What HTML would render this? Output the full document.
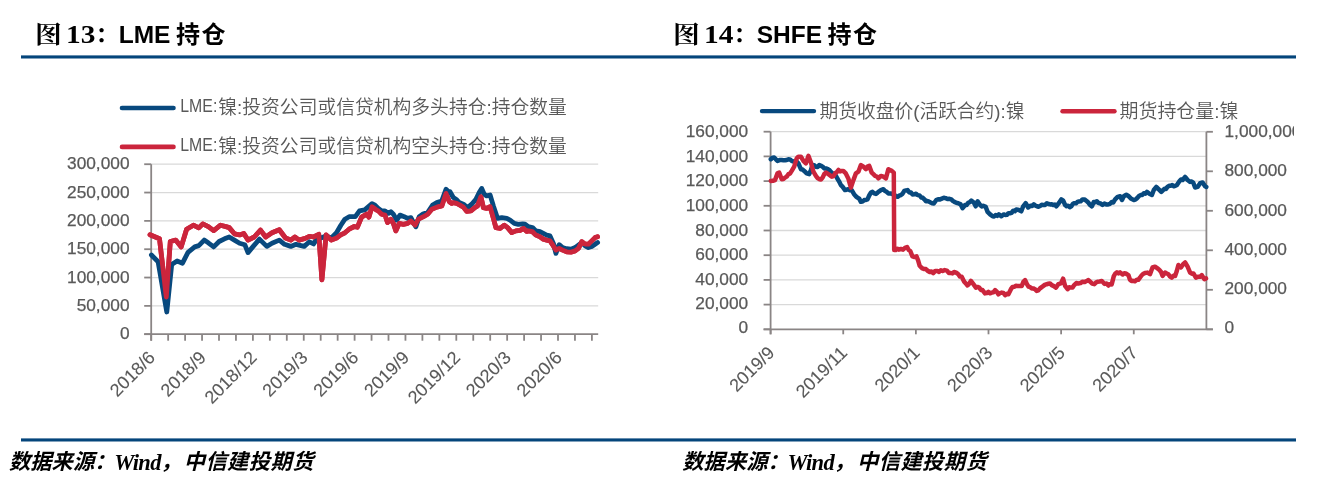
<!DOCTYPE html>
<html><head><meta charset="utf-8"><title>LME / SHFE 持仓</title>
<style>
html,body{margin:0;padding:0;background:#fff;}
body{width:1320px;height:479px;position:relative;overflow:hidden;}
.t{position:absolute;white-space:nowrap;color:#000;font-weight:bold;line-height:1;}
.t.s{font-family:"Liberation Serif","Noto Serif CJK SC",serif;}
.t.a{font-family:"Liberation Sans","Noto Sans CJK SC",sans-serif;}
.t.n{font-family:"Liberation Serif",serif;}
.rule{position:absolute;left:21px;width:1275px;height:3.4px;background:#04457b;}
.src{position:absolute;white-space:nowrap;font-family:"Liberation Sans","Noto Sans CJK SC",sans-serif;font-weight:bold;font-style:italic;font-size:21.3px;line-height:1;color:#000;}
.src.w{font-family:"Liberation Serif",serif;font-weight:bold;font-size:22.5px;letter-spacing:-0.7px;}
svg{position:absolute;left:0;top:0;}
.ax{font-family:"Liberation Sans","Noto Sans CJK SC",sans-serif;font-size:17.3px;fill:#595959;stroke:#595959;stroke-width:0.25px;}
.xl{font-size:18px;stroke-width:0.1px;}
.lg{font-family:"Liberation Sans","Noto Sans CJK SC",sans-serif;font-size:19px;fill:#595959;font-weight:350;}
</style></head>
<body>
<div class="t s" style="left:34.8px;top:23.6px;font-size:23.5px;transform:scaleX(1.14);transform-origin:0 0;">图</div><div class="t n" style="left:66.2px;top:23.4px;font-size:24.5px;transform:scaleX(1.2);transform-origin:0 0;">13</div><div class="t s" style="left:95.0px;top:23px;font-size:24.5px;">：</div><div class="t a" style="left:118.7px;top:23px;font-size:24.5px;">LME</div><div class="t a" style="left:176.1px;top:23.3px;font-size:24px;letter-spacing:1.5px;">持仓</div>
<div class="t s" style="left:672.8px;top:23.6px;font-size:23.5px;transform:scaleX(1.14);transform-origin:0 0;">图</div><div class="t n" style="left:704.2px;top:23.4px;font-size:24.5px;transform:scaleX(1.2);transform-origin:0 0;">14</div><div class="t s" style="left:733.0px;top:23px;font-size:24.5px;">：</div><div class="t a" style="left:756.7px;top:23px;font-size:24.5px;">SHFE</div><div class="t a" style="left:827.4px;top:23.3px;font-size:24px;letter-spacing:1.5px;">持仓</div>
<div class="src" style="left:9.0px;top:452.3px;">数据来源：</div><div class="src w" style="left:114.3px;top:452.3px;">Wind</div><div class="src" style="left:160.5px;top:452.3px;">，</div><div class="src" style="left:183.7px;top:452.3px;letter-spacing:0.4px;">中信建投期货</div>
<div class="src" style="left:682.3px;top:452.3px;">数据来源：</div><div class="src w" style="left:787.6px;top:452.3px;">Wind</div><div class="src" style="left:833.8px;top:452.3px;">，</div><div class="src" style="left:857.0px;top:452.3px;letter-spacing:0.4px;">中信建投期货</div>
<svg width="1320" height="479" viewBox="0 0 1320 479">
<defs><clipPath id="cp"><rect x="0" y="0" width="1294" height="479"/></clipPath></defs>
<rect x="21" y="55.4" width="1275" height="3.1" fill="#04457b"/>
<rect x="21" y="438.4" width="1275" height="3.1" fill="#04457b"/>
<g clip-path="url(#cp)">
<line x1="151.2" y1="305.87" x2="598.2" y2="305.87" stroke="#d9d9d9" stroke-width="1.3"/>
<line x1="151.2" y1="277.54" x2="598.2" y2="277.54" stroke="#d9d9d9" stroke-width="1.3"/>
<line x1="151.2" y1="249.21" x2="598.2" y2="249.21" stroke="#d9d9d9" stroke-width="1.3"/>
<line x1="151.2" y1="220.88" x2="598.2" y2="220.88" stroke="#d9d9d9" stroke-width="1.3"/>
<line x1="151.2" y1="192.55" x2="598.2" y2="192.55" stroke="#d9d9d9" stroke-width="1.3"/>
<line x1="151.2" y1="164.22" x2="598.2" y2="164.22" stroke="#d9d9d9" stroke-width="1.3"/>
<line x1="151.2" y1="164.22" x2="151.2" y2="340.7" stroke="#8a8585" stroke-width="1.8"/>
<line x1="144.2" y1="334.20" x2="151.2" y2="334.20" stroke="#8a8585" stroke-width="1.8"/>
<line x1="144.2" y1="305.87" x2="151.2" y2="305.87" stroke="#8a8585" stroke-width="1.8"/>
<line x1="144.2" y1="277.54" x2="151.2" y2="277.54" stroke="#8a8585" stroke-width="1.8"/>
<line x1="144.2" y1="249.21" x2="151.2" y2="249.21" stroke="#8a8585" stroke-width="1.8"/>
<line x1="144.2" y1="220.88" x2="151.2" y2="220.88" stroke="#8a8585" stroke-width="1.8"/>
<line x1="144.2" y1="192.55" x2="151.2" y2="192.55" stroke="#8a8585" stroke-width="1.8"/>
<line x1="144.2" y1="164.22" x2="151.2" y2="164.22" stroke="#8a8585" stroke-width="1.8"/>
<line x1="144.2" y1="334.2" x2="598.2" y2="334.2" stroke="#8a8585" stroke-width="1.8"/>
<line x1="151.20" y1="334.2" x2="151.20" y2="340.7" stroke="#8a8585" stroke-width="1.8"/>
<line x1="168.15" y1="334.2" x2="168.15" y2="340.7" stroke="#8a8585" stroke-width="1.8"/>
<line x1="185.10" y1="334.2" x2="185.10" y2="340.7" stroke="#8a8585" stroke-width="1.8"/>
<line x1="202.05" y1="334.2" x2="202.05" y2="340.7" stroke="#8a8585" stroke-width="1.8"/>
<line x1="219.00" y1="334.2" x2="219.00" y2="340.7" stroke="#8a8585" stroke-width="1.8"/>
<line x1="235.95" y1="334.2" x2="235.95" y2="340.7" stroke="#8a8585" stroke-width="1.8"/>
<line x1="252.90" y1="334.2" x2="252.90" y2="340.7" stroke="#8a8585" stroke-width="1.8"/>
<line x1="269.85" y1="334.2" x2="269.85" y2="340.7" stroke="#8a8585" stroke-width="1.8"/>
<line x1="286.80" y1="334.2" x2="286.80" y2="340.7" stroke="#8a8585" stroke-width="1.8"/>
<line x1="303.75" y1="334.2" x2="303.75" y2="340.7" stroke="#8a8585" stroke-width="1.8"/>
<line x1="320.70" y1="334.2" x2="320.70" y2="340.7" stroke="#8a8585" stroke-width="1.8"/>
<line x1="337.65" y1="334.2" x2="337.65" y2="340.7" stroke="#8a8585" stroke-width="1.8"/>
<line x1="354.60" y1="334.2" x2="354.60" y2="340.7" stroke="#8a8585" stroke-width="1.8"/>
<line x1="371.55" y1="334.2" x2="371.55" y2="340.7" stroke="#8a8585" stroke-width="1.8"/>
<line x1="388.50" y1="334.2" x2="388.50" y2="340.7" stroke="#8a8585" stroke-width="1.8"/>
<line x1="405.45" y1="334.2" x2="405.45" y2="340.7" stroke="#8a8585" stroke-width="1.8"/>
<line x1="422.40" y1="334.2" x2="422.40" y2="340.7" stroke="#8a8585" stroke-width="1.8"/>
<line x1="439.35" y1="334.2" x2="439.35" y2="340.7" stroke="#8a8585" stroke-width="1.8"/>
<line x1="456.30" y1="334.2" x2="456.30" y2="340.7" stroke="#8a8585" stroke-width="1.8"/>
<line x1="473.25" y1="334.2" x2="473.25" y2="340.7" stroke="#8a8585" stroke-width="1.8"/>
<line x1="490.20" y1="334.2" x2="490.20" y2="340.7" stroke="#8a8585" stroke-width="1.8"/>
<line x1="507.15" y1="334.2" x2="507.15" y2="340.7" stroke="#8a8585" stroke-width="1.8"/>
<line x1="524.10" y1="334.2" x2="524.10" y2="340.7" stroke="#8a8585" stroke-width="1.8"/>
<line x1="541.05" y1="334.2" x2="541.05" y2="340.7" stroke="#8a8585" stroke-width="1.8"/>
<line x1="558.00" y1="334.2" x2="558.00" y2="340.7" stroke="#8a8585" stroke-width="1.8"/>
<line x1="574.95" y1="334.2" x2="574.95" y2="340.7" stroke="#8a8585" stroke-width="1.8"/>
<line x1="591.90" y1="334.2" x2="591.90" y2="340.7" stroke="#8a8585" stroke-width="1.8"/>
<text x="129.5" y="339.40" text-anchor="end" class="ax">0</text>
<text x="129.5" y="311.07" text-anchor="end" class="ax">50,000</text>
<text x="129.5" y="282.74" text-anchor="end" class="ax">100,000</text>
<text x="129.5" y="254.41" text-anchor="end" class="ax">150,000</text>
<text x="129.5" y="226.08" text-anchor="end" class="ax">200,000</text>
<text x="129.5" y="197.75" text-anchor="end" class="ax">250,000</text>
<text x="129.5" y="169.42" text-anchor="end" class="ax">300,000</text>
<text transform="translate(156.20,358.7) rotate(-45)" text-anchor="end" class="ax xl">2018/6</text>
<text transform="translate(207.05,358.7) rotate(-45)" text-anchor="end" class="ax xl">2018/9</text>
<text transform="translate(257.90,358.7) rotate(-45)" text-anchor="end" class="ax xl">2018/12</text>
<text transform="translate(308.75,358.7) rotate(-45)" text-anchor="end" class="ax xl">2019/3</text>
<text transform="translate(359.60,358.7) rotate(-45)" text-anchor="end" class="ax xl">2019/6</text>
<text transform="translate(410.45,358.7) rotate(-45)" text-anchor="end" class="ax xl">2019/9</text>
<text transform="translate(461.30,358.7) rotate(-45)" text-anchor="end" class="ax xl">2019/12</text>
<text transform="translate(512.15,358.7) rotate(-45)" text-anchor="end" class="ax xl">2020/3</text>
<text transform="translate(563.00,358.7) rotate(-45)" text-anchor="end" class="ax xl">2020/6</text>
<polyline points="150.0,234.7 159.5,238.8 166.3,297.0 170.3,241.5 175.7,240.1 181.2,246.9 186.6,229.3 193.4,225.2 198.8,227.9 202.8,223.9 208.3,226.6 213.7,230.6 220.5,225.2 225.9,226.6 229.2,227.6 234.4,233.8 239.6,234.9 243.8,233.4 248.0,240.1 254.2,237.0 260.5,230.1 265.7,237.0 272.0,232.8 279.3,229.7 285.5,238.0 290.8,240.1 294.9,237.0 299.1,240.1 305.2,238.4 309.4,236.3 313.6,237.0 318.8,234.3 321.9,279.8 326.1,234.9 331.3,240.1 336.5,238.0 340.7,234.9 344.9,232.8 349.1,229.2 354.3,226.5 357.4,227.2 361.6,217.1 366.8,214.0 368.9,217.1 372.0,206.7 376.2,209.8 378.3,210.9 381.7,214.2 385.0,215.1 387.5,222.6 390.9,219.2 393.4,223.4 395.9,230.9 399.2,223.4 403.4,224.3 407.6,223.4 410.9,220.9 415.1,225.1 418.4,219.2 423.4,216.7 427.6,214.2 431.8,209.2 436.8,207.1 441.8,205.9 446.0,193.4 449.3,201.7 451.8,203.4 453.3,202.6 456.7,203.4 460.0,205.1 463.4,207.1 466.7,211.4 470.9,210.9 474.2,208.1 477.5,205.9 480.9,196.7 483.4,207.6 486.7,208.4 490.1,206.7 493.4,218.4 495.9,227.6 500.1,228.4 504.3,225.1 507.6,227.6 511.8,232.6 515.9,230.9 520.1,230.4 523.5,228.4 526.8,231.4 528.3,230.9 532.5,231.7 535.9,235.1 540.0,236.7 543.4,239.2 546.7,240.1 550.0,240.9 553.4,245.9 555.9,250.1 559.2,248.4 562.6,250.1 566.7,251.8 570.9,252.1 575.1,250.9 578.4,248.4 581.8,241.7 585.1,244.2 588.4,244.2 591.8,240.9 595.1,237.6 597.6,236.7" fill="none" stroke="#cb253c" stroke-width="4.8" stroke-linejoin="round" stroke-linecap="round"/>
<polyline points="151.4,255.0 158.1,261.8 166.8,312.0 171.7,264.5 177.1,261.0 182.5,263.2 188.0,252.3 194.7,246.9 198.8,245.6 204.2,240.1 208.3,242.8 213.7,246.9 219.1,241.5 224.5,238.8 229.2,237.0 234.4,240.1 239.6,243.2 244.8,244.7 248.0,252.6 253.2,246.4 259.4,239.1 266.8,246.4 272.0,243.2 279.3,240.1 284.5,244.3 290.8,246.4 296.0,244.3 300.0,245.3 304.2,246.4 309.4,241.8 313.6,243.9 316.7,239.1 320.9,238.0 326.1,235.9 331.3,238.0 336.5,232.8 340.7,225.5 344.9,219.2 349.1,216.7 355.3,216.7 359.5,210.9 364.7,209.8 372.0,203.6 375.0,205.1 378.3,208.4 381.7,210.9 385.0,210.9 388.4,213.4 390.9,211.7 393.4,214.2 396.7,220.1 400.0,215.1 404.2,216.7 407.6,218.4 410.9,217.6 415.9,226.8 419.2,216.7 423.4,213.7 427.6,212.6 432.6,205.1 436.8,202.6 441.8,200.9 446.0,189.2 448.5,191.7 450.0,191.7 453.3,197.5 456.7,199.7 459.2,202.6 463.4,204.2 467.5,207.6 471.7,204.2 475.9,199.2 479.2,192.5 481.7,188.4 484.2,194.2 486.7,195.9 490.1,195.0 493.4,205.9 497.6,218.4 501.8,217.6 506.8,218.4 510.1,220.1 514.3,223.4 518.4,224.3 522.6,223.8 525.0,224.2 528.3,226.7 532.5,227.5 535.9,230.9 540.0,231.7 543.4,233.4 546.7,235.1 550.0,235.9 553.4,243.4 555.9,253.4 559.2,244.7 562.6,247.6 566.7,248.7 570.9,249.2 575.1,247.6 578.4,245.1 581.8,242.6 585.1,245.9 588.4,247.6 591.8,246.4 595.1,244.2 597.6,242.6" fill="none" stroke="#08497e" stroke-width="4.8" stroke-linejoin="round" stroke-linecap="round"/>
<polyline points="150.0,234.7 159.5,238.8 166.3,297.0 170.3,241.5 175.7,240.1 181.2,246.9 186.6,229.3 193.4,225.2 198.8,227.9 202.8,223.9 208.3,226.6 213.7,230.6 220.5,225.2 225.9,226.6 229.2,227.6 234.4,233.8 239.6,234.9 243.8,233.4 248.0,240.1 254.2,237.0 260.5,230.1 265.7,237.0 272.0,232.8 279.3,229.7 285.5,238.0 290.8,240.1 294.9,237.0 299.1,240.1 305.2,238.4 309.4,236.3 313.6,237.0 318.8,234.3 321.9,279.8 326.1,234.9 331.3,240.1 336.5,238.0 340.7,234.9 344.9,232.8 349.1,229.2 354.3,226.5 357.4,227.2 361.6,217.1 366.8,214.0 368.9,217.1 372.0,206.7 376.2,209.8 378.3,210.9 381.7,214.2 385.0,215.1 387.5,222.6 390.9,219.2 393.4,223.4 395.9,230.9 399.2,223.4 403.4,224.3 407.6,223.4 410.9,220.9 415.1,225.1 418.4,219.2 423.4,216.7 427.6,214.2 431.8,209.2 436.8,207.1 441.8,205.9 446.0,193.4 449.3,201.7 451.8,203.4 453.3,202.6 456.7,203.4 460.0,205.1 463.4,207.1 466.7,211.4 470.9,210.9 474.2,208.1 477.5,205.9 480.9,196.7 483.4,207.6 486.7,208.4 490.1,206.7 493.4,218.4 495.9,227.6 500.1,228.4 504.3,225.1 507.6,227.6 511.8,232.6 515.9,230.9 520.1,230.4 523.5,228.4 526.8,231.4 528.3,230.9 532.5,231.7 535.9,235.1 540.0,236.7 543.4,239.2 546.7,240.1 550.0,240.9 553.4,245.9 555.9,250.1 559.2,248.4 562.6,250.1 566.7,251.8 570.9,252.1 575.1,250.9 578.4,248.4 581.8,241.7 585.1,244.2 588.4,244.2 591.8,240.9 595.1,237.6 597.6,236.7" fill="none" stroke="#cb253c" stroke-width="4.8" stroke-linejoin="round" stroke-linecap="round"/>
<line x1="122" y1="108" x2="173.5" y2="108" stroke="#08497e" stroke-width="4.6" stroke-linecap="round"/>
<line x1="122" y1="146.9" x2="173.5" y2="146.9" stroke="#cb253c" stroke-width="4.6" stroke-linecap="round"/>
<text x="180.3" y="111.8" class="lg" textLength="37.0" lengthAdjust="spacingAndGlyphs">LME:</text>
<text x="218.3" y="113.8" class="lg" textLength="348.5" lengthAdjust="spacingAndGlyphs">镍:投资公司或信贷机构多头持仓:持仓数量</text>
<text x="180.3" y="150.7" class="lg" textLength="37.0" lengthAdjust="spacingAndGlyphs">LME:</text>
<text x="218.3" y="152.7" class="lg" textLength="348.5" lengthAdjust="spacingAndGlyphs">镍:投资公司或信贷机构空头持仓:持仓数量</text>
<line x1="770.6" y1="304.60" x2="1206.4" y2="304.60" stroke="#d9d9d9" stroke-width="1.3"/>
<line x1="770.6" y1="279.90" x2="1206.4" y2="279.90" stroke="#d9d9d9" stroke-width="1.3"/>
<line x1="770.6" y1="255.20" x2="1206.4" y2="255.20" stroke="#d9d9d9" stroke-width="1.3"/>
<line x1="770.6" y1="230.50" x2="1206.4" y2="230.50" stroke="#d9d9d9" stroke-width="1.3"/>
<line x1="770.6" y1="205.80" x2="1206.4" y2="205.80" stroke="#d9d9d9" stroke-width="1.3"/>
<line x1="770.6" y1="181.10" x2="1206.4" y2="181.10" stroke="#d9d9d9" stroke-width="1.3"/>
<line x1="770.6" y1="156.40" x2="1206.4" y2="156.40" stroke="#d9d9d9" stroke-width="1.3"/>
<line x1="770.6" y1="131.70" x2="1206.4" y2="131.70" stroke="#d9d9d9" stroke-width="1.3"/>
<line x1="770.6" y1="131.70" x2="770.6" y2="334.3" stroke="#8a8585" stroke-width="1.8"/>
<line x1="763.6" y1="329.30" x2="770.6" y2="329.30" stroke="#8a8585" stroke-width="1.8"/>
<line x1="763.6" y1="304.60" x2="770.6" y2="304.60" stroke="#8a8585" stroke-width="1.8"/>
<line x1="763.6" y1="279.90" x2="770.6" y2="279.90" stroke="#8a8585" stroke-width="1.8"/>
<line x1="763.6" y1="255.20" x2="770.6" y2="255.20" stroke="#8a8585" stroke-width="1.8"/>
<line x1="763.6" y1="230.50" x2="770.6" y2="230.50" stroke="#8a8585" stroke-width="1.8"/>
<line x1="763.6" y1="205.80" x2="770.6" y2="205.80" stroke="#8a8585" stroke-width="1.8"/>
<line x1="763.6" y1="181.10" x2="770.6" y2="181.10" stroke="#8a8585" stroke-width="1.8"/>
<line x1="763.6" y1="156.40" x2="770.6" y2="156.40" stroke="#8a8585" stroke-width="1.8"/>
<line x1="763.6" y1="131.70" x2="770.6" y2="131.70" stroke="#8a8585" stroke-width="1.8"/>
<line x1="1206.4" y1="131.80" x2="1206.4" y2="329.3" stroke="#8a8585" stroke-width="1.8"/>
<line x1="1206.4" y1="329.30" x2="1212.9" y2="329.30" stroke="#8a8585" stroke-width="1.8"/>
<line x1="1206.4" y1="289.80" x2="1212.9" y2="289.80" stroke="#8a8585" stroke-width="1.8"/>
<line x1="1206.4" y1="250.30" x2="1212.9" y2="250.30" stroke="#8a8585" stroke-width="1.8"/>
<line x1="1206.4" y1="210.80" x2="1212.9" y2="210.80" stroke="#8a8585" stroke-width="1.8"/>
<line x1="1206.4" y1="171.30" x2="1212.9" y2="171.30" stroke="#8a8585" stroke-width="1.8"/>
<line x1="1206.4" y1="131.80" x2="1212.9" y2="131.80" stroke="#8a8585" stroke-width="1.8"/>
<line x1="763.6" y1="329.3" x2="1212.9" y2="329.3" stroke="#8a8585" stroke-width="1.8"/>
<line x1="770.60" y1="329.3" x2="770.60" y2="334.3" stroke="#8a8585" stroke-width="1.8"/>
<line x1="843.23" y1="329.3" x2="843.23" y2="334.3" stroke="#8a8585" stroke-width="1.8"/>
<line x1="915.87" y1="329.3" x2="915.87" y2="334.3" stroke="#8a8585" stroke-width="1.8"/>
<line x1="988.50" y1="329.3" x2="988.50" y2="334.3" stroke="#8a8585" stroke-width="1.8"/>
<line x1="1061.13" y1="329.3" x2="1061.13" y2="334.3" stroke="#8a8585" stroke-width="1.8"/>
<line x1="1133.77" y1="329.3" x2="1133.77" y2="334.3" stroke="#8a8585" stroke-width="1.8"/>
<text x="748.2" y="332.50" text-anchor="end" class="ax">0</text>
<text x="748.2" y="309.00" text-anchor="end" class="ax">20,000</text>
<text x="748.2" y="284.50" text-anchor="end" class="ax">40,000</text>
<text x="748.2" y="260.10" text-anchor="end" class="ax">60,000</text>
<text x="748.2" y="235.70" text-anchor="end" class="ax">80,000</text>
<text x="748.2" y="211.00" text-anchor="end" class="ax">100,000</text>
<text x="748.2" y="186.30" text-anchor="end" class="ax">120,000</text>
<text x="748.2" y="161.60" text-anchor="end" class="ax">140,000</text>
<text x="748.2" y="136.90" text-anchor="end" class="ax">160,000</text>
<text x="1224.5" y="332.50" class="ax">0</text>
<text x="1224.5" y="294.10" class="ax">200,000</text>
<text x="1224.5" y="255.00" class="ax">400,000</text>
<text x="1224.5" y="216.40" class="ax">600,000</text>
<text x="1224.5" y="175.60" class="ax">800,000</text>
<text x="1224.5" y="136.80" class="ax">1,000,000</text>
<text transform="translate(775.60,353.8) rotate(-45)" text-anchor="end" class="ax xl">2019/9</text>
<text transform="translate(848.23,353.8) rotate(-45)" text-anchor="end" class="ax xl">2019/11</text>
<text transform="translate(920.87,353.8) rotate(-45)" text-anchor="end" class="ax xl">2020/1</text>
<text transform="translate(993.50,353.8) rotate(-45)" text-anchor="end" class="ax xl">2020/3</text>
<text transform="translate(1066.13,353.8) rotate(-45)" text-anchor="end" class="ax xl">2020/5</text>
<text transform="translate(1138.77,353.8) rotate(-45)" text-anchor="end" class="ax xl">2020/7</text>
<polyline points="770.8,159.2 772.5,157.7 774.2,157.5 775.9,159.3 777.5,160.9 779.6,160.1 781.7,160.0 783.4,160.2 785.0,160.3 786.7,160.0 788.4,159.3 790.0,159.4 791.7,160.9 793.8,161.7 795.9,160.9 798.4,163.4 800.9,169.2 802.5,169.5 804.2,170.9 806.7,173.4 809.2,174.2 810.9,170.0 812.6,165.0 814.2,165.2 815.9,166.7 817.6,167.0 819.3,165.0 821.0,165.8 822.6,166.7 824.3,168.4 826.0,168.4 827.6,169.1 829.3,170.0 831.0,172.0 832.6,173.4 834.3,173.8 836.0,175.9 837.6,179.1 839.3,181.7 840.9,185.1 842.5,186.7 845.0,190.1 846.6,189.7 848.3,189.2 850.0,190.2 851.7,190.1 854.2,194.3 855.9,196.4 857.5,197.6 859.2,198.7 860.9,201.8 862.5,201.6 864.2,200.1 865.9,199.9 867.5,199.3 869.2,195.5 870.9,192.6 872.5,191.9 874.2,193.4 875.9,193.9 877.6,192.6 879.2,191.3 880.9,190.1 883.4,189.2 885.0,191.0 886.7,191.8 888.4,193.5 890.1,193.4 891.8,193.9 893.4,193.4 895.5,196.1 897.6,196.8 899.2,195.7 900.9,195.1 902.6,193.7 904.3,190.9 906.0,190.4 907.6,190.1 909.3,192.4 911.0,192.6 912.6,194.4 914.3,194.3 916.0,193.7 917.6,195.1 919.5,195.4 921.3,197.5 922.8,197.8 924.4,199.4 926.0,201.3 927.5,201.0 929.0,201.6 930.6,202.5 932.2,203.3 933.8,203.5 936.3,200.0 938.1,199.2 940.0,199.4 941.9,198.6 943.8,197.8 945.6,198.1 947.5,199.0 949.4,198.8 951.3,199.4 952.8,200.9 954.4,201.9 956.3,202.8 958.2,203.2 960.7,204.4 962.6,208.2 965.1,205.0 966.7,204.9 968.2,202.8 969.8,202.2 971.3,200.7 973.8,202.5 975.7,206.3 977.6,201.3 980.1,205.0 981.7,206.4 983.2,205.7 985.7,206.9 987.6,211.9 990.1,214.4 992.6,216.3 994.1,216.5 995.6,215.0 997.2,215.9 998.8,214.4 1001.3,216.3 1003.8,214.4 1005.3,215.0 1006.9,214.8 1008.5,213.2 1010.0,213.2 1011.6,212.8 1013.2,210.7 1014.8,211.2 1016.3,209.4 1018.8,210.0 1021.3,211.3 1023.2,206.3 1025.7,203.2 1028.2,207.5 1030.7,205.7 1032.2,206.0 1033.8,204.4 1035.3,205.5 1036.9,206.3 1038.5,206.7 1040.1,206.0 1041.7,204.8 1043.2,205.0 1045.1,204.9 1046.9,203.2 1048.5,204.0 1050.1,204.4 1051.7,204.2 1053.2,205.0 1054.8,204.6 1056.3,206.3 1058.8,203.2 1061.3,199.4 1063.2,200.7 1065.1,205.0 1066.6,206.2 1068.1,205.7 1069.7,207.2 1071.3,206.3 1072.8,203.8 1074.4,203.2 1076.0,203.3 1077.5,201.9 1079.0,201.4 1080.6,201.3 1082.5,199.5 1084.4,199.4 1086.9,201.3 1088.5,202.7 1090.0,205.0 1091.9,206.3 1093.8,201.9 1095.3,202.2 1096.9,201.3 1098.5,203.1 1100.0,203.2 1102.5,205.0 1104.4,203.6 1106.3,204.4 1108.2,204.4 1110.1,203.8 1111.7,202.1 1113.2,202.5 1115.1,199.4 1117.6,196.9 1120.1,196.3 1122.0,200.0 1123.8,196.3 1126.3,194.8 1128.8,196.3 1131.3,198.8 1133.8,200.0 1135.4,199.6 1137.0,198.2 1138.8,196.2 1140.6,195.0 1142.2,195.0 1143.8,193.2 1145.3,193.7 1146.9,191.9 1149.4,193.8 1151.9,195.0 1153.8,190.0 1156.3,186.9 1158.8,189.4 1161.3,191.9 1162.8,190.4 1164.4,188.8 1166.0,189.0 1167.5,186.9 1169.1,185.8 1170.7,185.7 1172.2,185.0 1173.8,186.3 1175.3,185.9 1176.9,185.0 1179.4,181.3 1181.0,179.5 1182.6,180.0 1185.1,176.9 1187.6,180.0 1190.1,181.9 1191.7,181.5 1193.2,182.5 1195.1,187.5 1197.6,186.9 1200.1,183.2 1202.6,182.5 1205.1,186.3 1206.3,186.9" fill="none" stroke="#08497e" stroke-width="4.5" stroke-linejoin="round" stroke-linecap="round"/>
<polyline points="770.8,180.9 772.9,180.8 775.0,180.1 777.5,173.4 779.2,172.6 781.7,179.2 783.4,179.0 785.0,177.6 786.7,176.6 788.4,174.2 790.0,173.6 791.7,170.9 794.2,166.7 796.7,158.4 798.4,156.7 800.9,156.7 803.4,160.9 805.9,163.4 808.4,155.9 810.9,162.5 813.4,171.7 815.9,175.9 817.6,178.1 819.3,179.2 821.0,179.4 822.6,177.6 824.3,174.0 826.0,172.6 828.4,174.2 830.1,175.4 831.8,176.7 833.5,176.1 835.1,173.4 836.8,172.1 838.5,170.0 840.1,171.4 841.8,170.9 843.3,170.9 845.8,173.4 848.3,178.4 850.9,187.6 853.4,180.1 855.9,173.4 858.4,171.7 860.9,165.0 863.4,166.7 865.9,169.2 867.5,166.6 869.2,165.9 871.7,172.6 873.4,174.2 875.1,175.9 876.8,176.5 878.4,178.4 880.9,175.9 883.4,176.7 885.9,178.4 888.4,169.2 890.1,170.2 891.8,170.9 893.8,172.6 894.2,250.1 895.7,250.1 897.3,248.7 898.8,249.7 900.9,249.0 903.0,249.7 905.0,247.8 907.1,247.0 908.7,250.0 910.3,251.1 912.4,256.4 914.5,257.0 916.5,256.4 918.1,260.3 919.7,265.8 921.8,268.1 923.8,268.9 925.9,269.1 928.0,271.0 929.7,272.0 931.5,271.5 933.2,273.1 935.3,270.9 937.4,271.0 939.1,271.9 940.9,270.3 942.6,271.0 944.7,270.1 946.8,270.6 948.9,273.0 951.0,273.1 952.5,273.4 954.1,272.0 956.2,272.6 958.3,274.2 960.0,276.6 961.7,276.7 964.2,281.7 965.9,283.6 967.5,285.4 969.2,283.6 970.9,280.9 973.4,284.2 975.9,287.6 977.5,286.9 979.2,287.6 980.9,289.9 982.5,290.1 985.0,293.4 986.7,293.1 988.4,291.8 990.0,293.3 991.7,292.6 993.4,292.3 995.1,290.1 996.8,291.7 998.4,294.3 1000.0,293.1 1001.7,292.6 1003.4,293.0 1005.1,295.1 1006.8,293.8 1008.4,294.3 1010.9,289.2 1012.6,286.9 1014.3,286.7 1016.0,285.8 1017.6,285.9 1019.7,286.1 1021.8,285.9 1023.4,281.8 1025.1,280.1 1026.8,283.8 1028.5,286.7 1030.2,287.2 1031.8,288.4 1033.3,288.4 1035.0,289.2 1036.7,290.9 1038.3,290.4 1040.0,288.4 1041.7,287.1 1043.4,285.9 1045.1,284.6 1046.7,284.2 1048.3,283.8 1050.0,283.4 1051.7,285.1 1053.4,285.9 1055.9,287.6 1058.4,284.2 1060.9,283.4 1063.1,278.7 1065.1,285.9 1067.6,289.2 1069.2,287.3 1070.9,287.6 1072.6,287.5 1074.2,285.1 1076.3,283.1 1078.4,283.4 1080.5,283.1 1082.6,281.7 1084.7,282.1 1086.8,280.9 1088.4,280.1 1090.1,281.7 1092.2,283.6 1094.3,284.2 1095.9,282.6 1097.6,281.7 1099.7,281.5 1101.8,280.9 1104.4,283.9 1106.5,283.5 1108.6,285.5 1110.2,283.9 1111.7,284.4 1113.8,276.1 1115.3,273.5 1116.9,272.4 1118.5,273.5 1120.1,272.4 1122.7,274.5 1124.2,273.3 1125.8,273.5 1128.4,275.1 1130.0,279.7 1131.5,280.9 1133.1,280.8 1134.9,281.3 1136.8,279.7 1138.3,279.8 1139.9,277.7 1141.5,275.5 1143.0,274.0 1145.0,273.0 1147.5,272.6 1150.0,274.2 1152.5,267.5 1155.0,266.7 1157.5,268.4 1159.2,269.7 1160.9,271.7 1162.6,275.9 1165.1,272.6 1166.8,273.5 1168.4,274.2 1170.1,276.6 1171.7,277.6 1173.4,275.8 1175.1,275.9 1176.8,271.0 1178.4,265.0 1180.9,267.5 1183.1,264.2 1185.1,262.5 1187.6,266.7 1190.1,272.6 1191.8,273.7 1193.4,273.4 1195.9,277.6 1198.4,276.7 1200.1,276.8 1201.8,275.1 1204.3,279.2 1206.0,278.4" fill="none" stroke="#cb253c" stroke-width="4.5" stroke-linejoin="round" stroke-linecap="round"/>
<line x1="762" y1="111.1" x2="814" y2="111.1" stroke="#08497e" stroke-width="4.4" stroke-linecap="round"/>
<line x1="1062.5" y1="111.2" x2="1114.5" y2="111.2" stroke="#cb253c" stroke-width="4.4" stroke-linecap="round"/>
<text x="819.5" y="117.5" class="lg" textLength="205" lengthAdjust="spacingAndGlyphs">期货收盘价(活跃合约):镍</text>
<text x="1119.5" y="117.5" class="lg" textLength="119" lengthAdjust="spacingAndGlyphs">期货持仓量:镍</text>
</g>
</svg>
</body></html>
